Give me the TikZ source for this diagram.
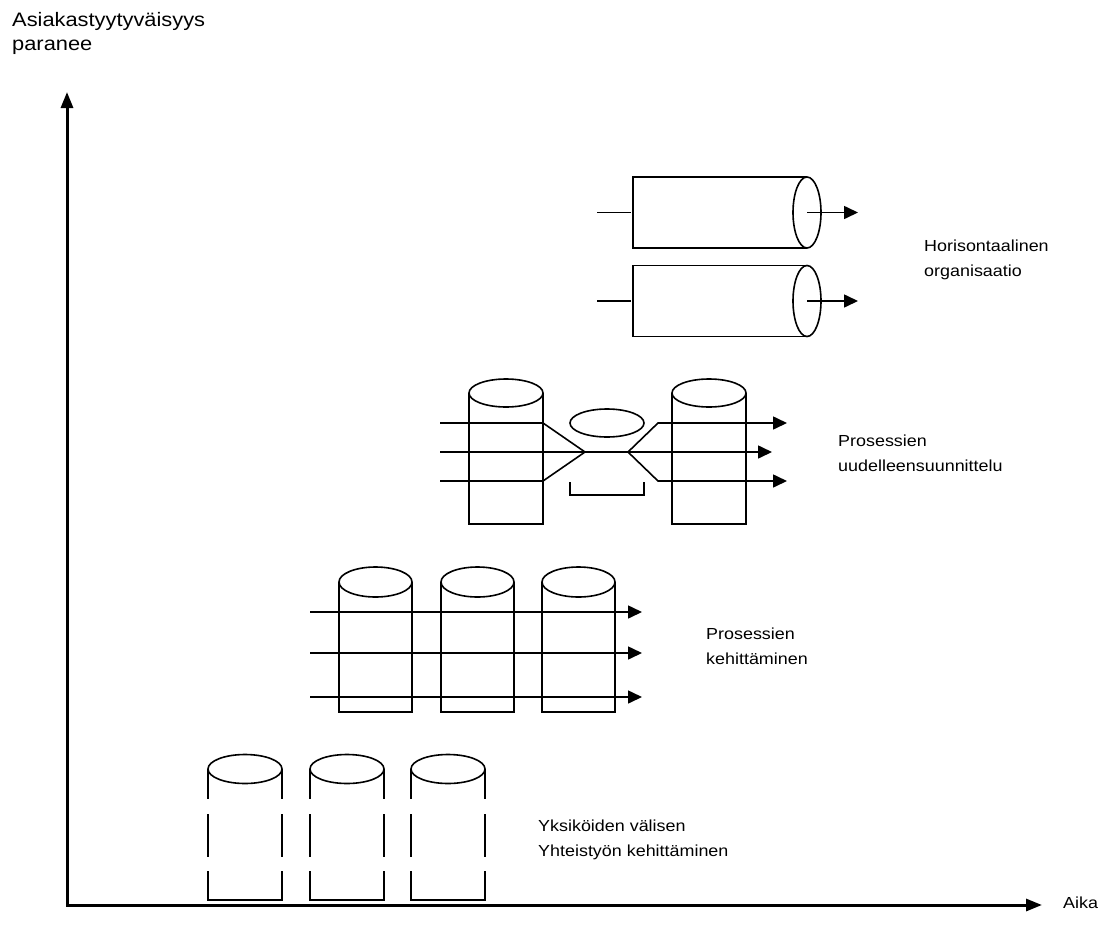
\documentclass[tikz,border=0pt]{standalone}
\usepackage{fontspec}
\setmainfont{Liberation Sans}[FakeStretch=1.12]
\usetikzlibrary{arrows.meta}

\begin{document}
\begin{tikzpicture}[x=1pt,y=-1pt,
  line/.style={line width=1.6pt},
  flow/.style={line width=1.6pt,-{Triangle[length=14pt,width=13pt]}},
  axis/.style={line width=3pt,line join=miter,
    {Triangle[length=16pt,width=12pt]}-{Triangle[length=16pt,width=12pt]}},
  lbl/.style={anchor=north west,align=left,inner sep=0pt,
    font=\fontsize{16}{25}\selectfont}]
\useasboundingbox (0,0) rectangle (1112,932);

% axes
\coordinate (ytip) at (67,92);
\coordinate (origin) at (67,905);
\coordinate (xtip) at (1042,905);
\draw[axis] (ytip) -- (origin) -- (xtip);
\node[lbl,font=\fontsize{19.5}{24}\selectfont] (ylabel) at (12,12) {Asiakastyytyväisyys\\paranee};
\node[lbl] (xlabel) at (1063,897) {Aika};

% horizontal organisation: two lying cylinders
\foreach \yc/\n in {212.5/a,301/b}{
  \draw[line] (807,\yc-35.5) -- (633,\yc-35.5) -- (633,\yc+35.5) -- (807,\yc+35.5);
  \draw[line] (807,\yc) ellipse [x radius=14, y radius=35.5];
  \coordinate (in\n) at (597,\yc);
  \coordinate (inend\n) at (631,\yc);
  \coordinate (out\n) at (807,\yc);
  \coordinate (outend\n) at (858,\yc);
  \draw[line] (in\n) -- (inend\n);
  \draw[flow] (out\n) -- (outend\n);
}
\node[lbl] (lblA) at (924,240) {Horisontaalinen\\organisaatio};

% process redesign
\foreach \xl in {469,672}{
  \draw[line] (\xl,393) -- (\xl,524) -- (\xl+74,524) -- (\xl+74,393);
  \draw[line] (\xl+37,393) ellipse [x radius=37, y radius=14];
}
\draw[line] (607,423) ellipse [x radius=37, y radius=14];
\draw[line] (570,482) -- (570,495) -- (644,495) -- (644,482);
\coordinate (lmeet) at (585,452);
\coordinate (rmeet) at (628,452);
\draw[line] (440,423) -- (543,423) -- (lmeet);
\draw[line] (440,481) -- (543,481) -- (lmeet);
\draw[flow] (440,452) -- (772,452);
\draw[flow] (rmeet) -- (658,423) -- (787,423);
\draw[flow] (rmeet) -- (658,481) -- (787,481);
\node[lbl] (lblB) at (838,435) {Prosessien\\uudelleensuunnittelu};

% process development
\foreach \xl in {339,441,542}{
  \draw[line] (\xl,582) -- (\xl,712) -- (\xl+73,712) -- (\xl+73,582);
  \draw[line] (\xl+36.5,582) ellipse [x radius=36.5, y radius=15];
}
\foreach \yy in {612,653,697}
  \draw[flow] (310,\yy) -- (642,\yy);
\node[lbl] (lblC) at (706,628) {Prosessien\\kehittäminen};

% separate units with broken walls
\foreach \xl in {208,310,411}{
  \draw[line] (\xl+37,769) ellipse [x radius=37, y radius=14.5];
  \foreach \xs in {\xl,\xl+74}{
    \draw[line] (\xs,769) -- (\xs,799);
    \draw[line] (\xs,814) -- (\xs,857);
  }
  \draw[line] (\xl,871) -- (\xl,900) -- (\xl+74,900) -- (\xl+74,871);
}
\node[lbl] (lblD) at (538,820) {Yksiköiden välisen\\Yhteistyön kehittäminen};
\end{tikzpicture}
\end{document}
